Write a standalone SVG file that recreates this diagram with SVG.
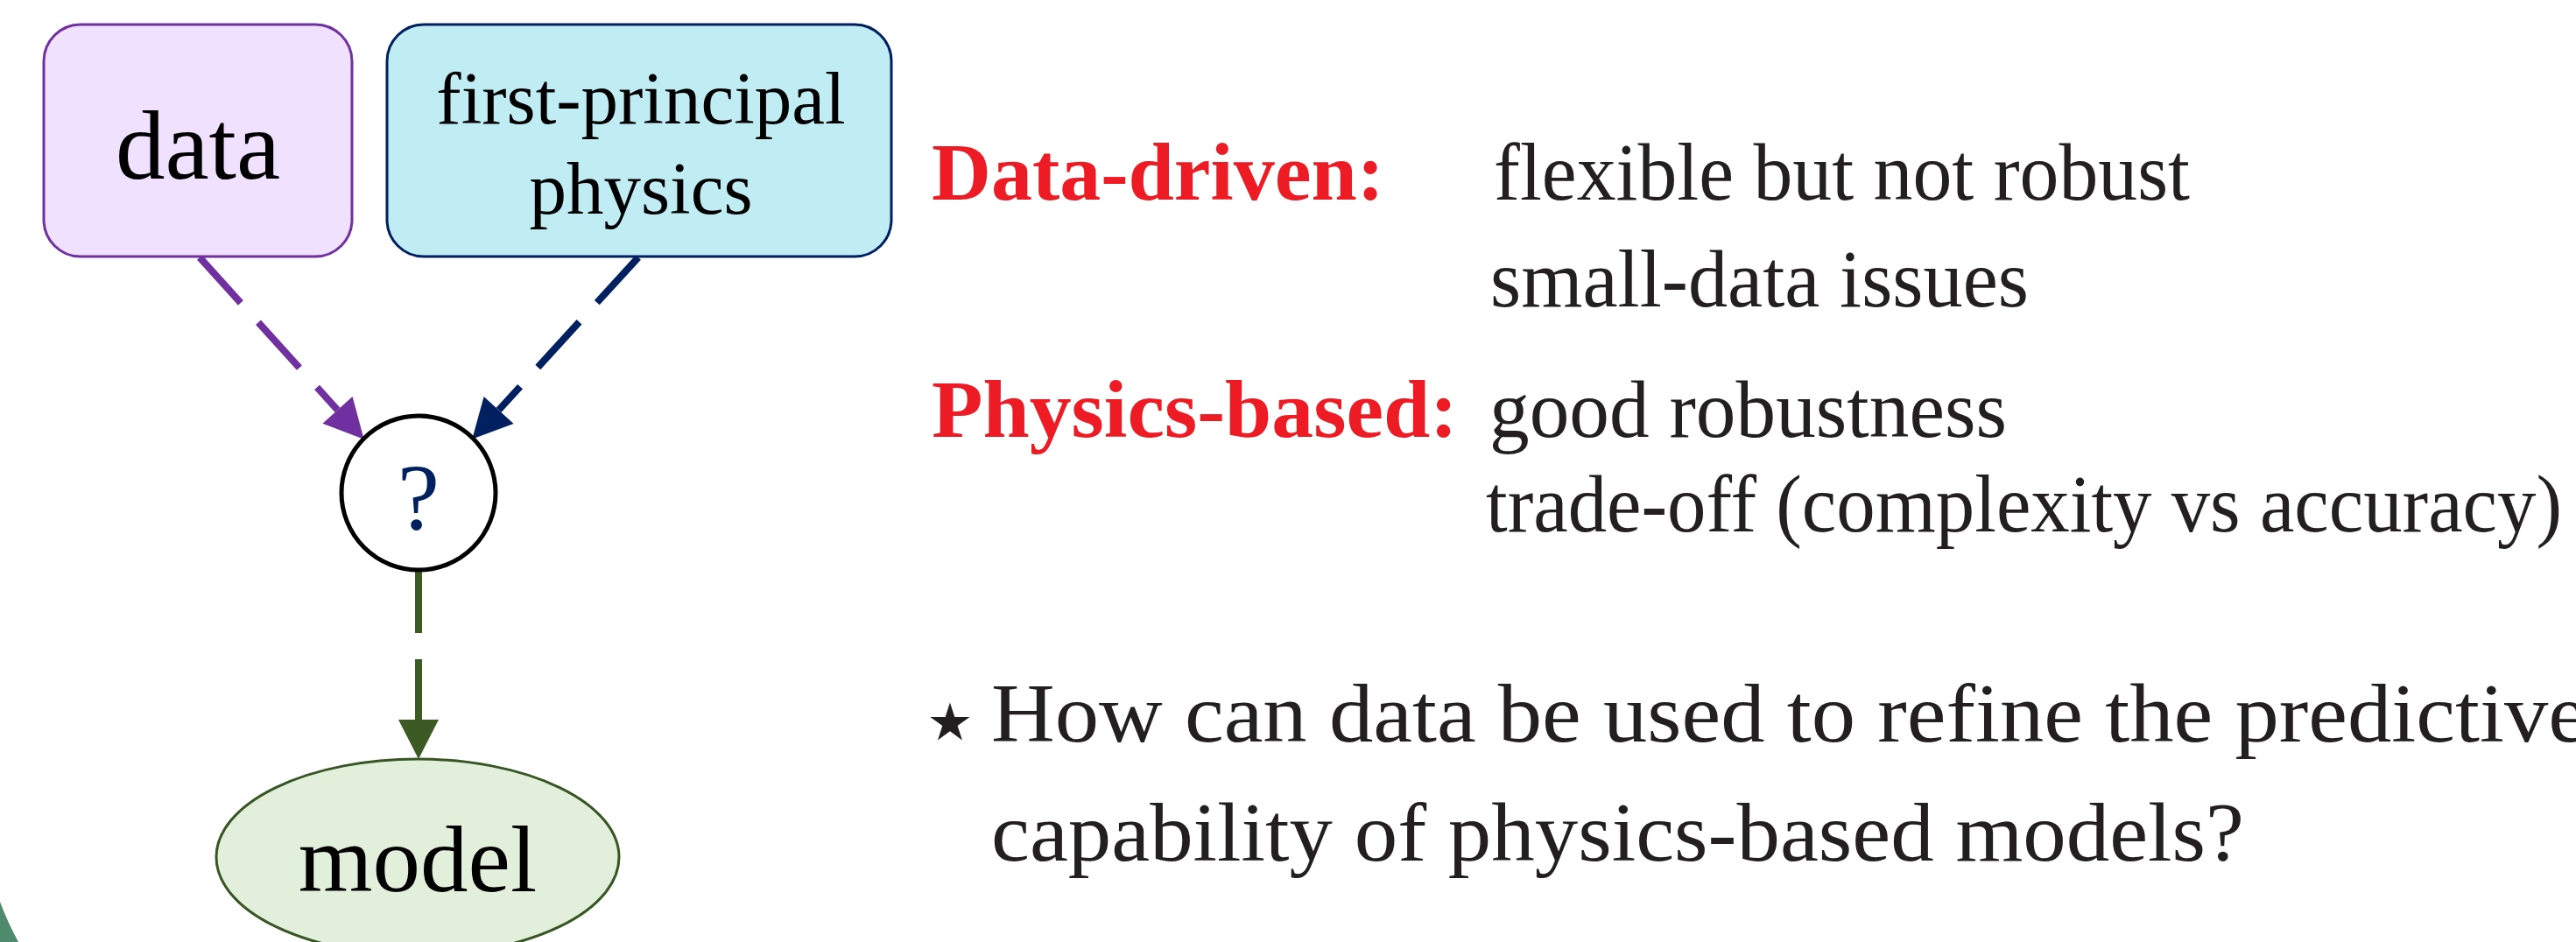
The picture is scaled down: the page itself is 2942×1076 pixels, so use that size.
<svg xmlns="http://www.w3.org/2000/svg" width="2942" height="1076" viewBox="0 0 2942 1076">
<style>
.lbl{font-family:"Liberation Serif","Times New Roman",serif;fill:#000;text-anchor:middle}
.red{font-family:"Liberation Serif","Times New Roman",serif;font-weight:bold;fill:#ed1c24;font-size:94px}
.txt{font-family:"Liberation Serif","Times New Roman",serif;fill:#231f20;font-size:93px}
.q{font-family:"Liberation Serif","Times New Roman",serif;fill:#231f20;font-size:95px}
.edge{fill:none;stroke-width:8;stroke-dasharray:70 30}
</style>
<defs>
<marker id="ahP" markerUnits="userSpaceOnUse" markerWidth="46" markerHeight="48" refX="0" refY="23" orient="auto" overflow="visible"><path d="M0,0 L45,23 L0,46 Z" fill="#7030a0"/></marker>
<marker id="ahN" markerUnits="userSpaceOnUse" markerWidth="46" markerHeight="48" refX="0" refY="23" orient="auto" overflow="visible"><path d="M0,0 L45,23 L0,46 Z" fill="#002060"/></marker>
<marker id="ahG" markerUnits="userSpaceOnUse" markerWidth="46" markerHeight="48" refX="0" refY="23" orient="auto" overflow="visible"><path d="M0,0 L45,23 L0,46 Z" fill="#3c5a23"/></marker>
</defs>
<rect width="2942" height="1076" fill="#ffffff"/>
<path d="M0,1030 Q9,1054 21,1076 L0,1076 Z" fill="#4e8b6c"/>
<g id="connectors">
<path class="edge" d="M228,294 L385.5,468.4" stroke="#7030a0" marker-end="url(#ahP)"/>
<path class="edge" d="M729,294 L569.6,468.4" stroke="#002060" marker-end="url(#ahN)"/>
<path class="edge" d="M478,653 L478,822" stroke="#3c5a23" stroke-dasharray="71 28" marker-end="url(#ahG)"/>
</g>
<g id="node-data">
<rect x="50" y="28" width="352" height="265" rx="42" ry="42" fill="#f0e1ff" stroke="#7030a0" stroke-width="3"/>
<text class="lbl" x="226" y="204" font-size="113">data</text>
</g>
<g id="node-physics">
<rect x="442" y="28" width="576" height="265" rx="42" ry="42" fill="#bfedf3" stroke="#002060" stroke-width="3"/>
<text class="lbl" x="732" y="141" font-size="85">first-principal</text>
<text class="lbl" x="732" y="244" font-size="85">physics</text>
</g>
<g id="node-q">
<circle cx="478" cy="563" r="88" fill="#ffffff" stroke="#000" stroke-width="5"/>
<text class="lbl" x="478" y="604" font-size="108" style="fill:#002060">?</text>
</g>
<g id="node-model">
<ellipse cx="477" cy="979" rx="230" ry="112" fill="#e2efda" stroke="#375623" stroke-width="3"/>
<text class="lbl" x="477" y="1018" font-size="109">model</text>
</g>
<g id="notes">
<text class="red" x="1064" y="228" textLength="517" lengthAdjust="spacingAndGlyphs">Data-driven:</text>
<text class="txt" x="1706" y="228" textLength="795" lengthAdjust="spacingAndGlyphs">flexible but not robust</text>
<text class="txt" x="1702" y="350" textLength="615" lengthAdjust="spacingAndGlyphs">small-data issues</text>
<text class="red" x="1064" y="499" textLength="601" lengthAdjust="spacingAndGlyphs">Physics-based:</text>
<text class="txt" x="1701" y="499" textLength="591" lengthAdjust="spacingAndGlyphs">good robustness</text>
<text class="txt" x="1697" y="607" textLength="1229" lengthAdjust="spacingAndGlyphs">trade-off (complexity vs accuracy)</text>
<text class="q" x="1085" y="823" text-anchor="middle" dominant-baseline="central" style="font-size:118px">⋆</text>
<text class="q" x="1132" y="847" textLength="1823" lengthAdjust="spacingAndGlyphs">How can data be used to refine the predictive</text>
<text class="q" x="1132" y="983" textLength="1431" lengthAdjust="spacingAndGlyphs">capability of physics-based models?</text>
</g>
</svg>
